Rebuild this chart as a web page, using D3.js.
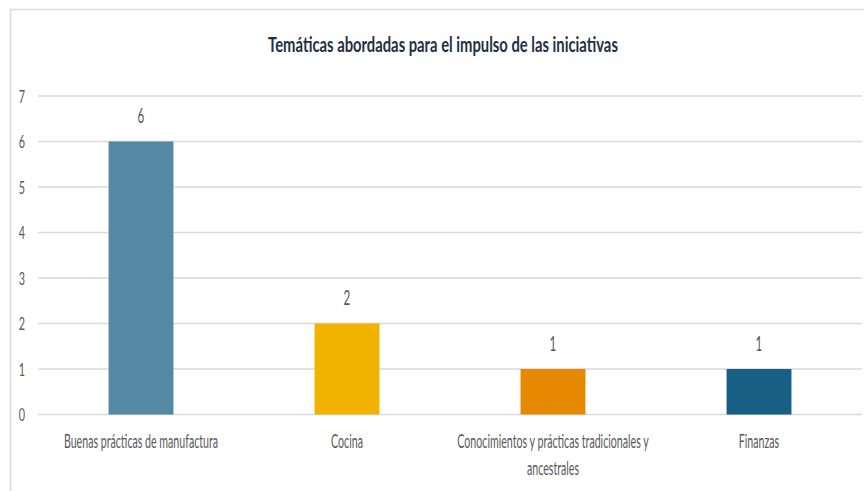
<!DOCTYPE html>
<html lang="es">
	<head>
		<meta charset="utf-8">
		<title>Temáticas abordadas</title>
		<script src="https://cdn.jsdelivr.net/npm/d3@7"></script>
		<style>
			body { margin: 0; background: #fff; }
			text { font-family: Lato, "Open Sans", sans-serif; }
		</style>
	</head>
	<body>
		<script>

			//Data
			var categories = ["Buenas prácticas de manufactura", "Cocina", "Conocimientos y prácticas tradicionales y ancestrales", "Finanzas"];
			var values = [6, 2, 1, 1];
			var colors = ["#5589a3", "#f2b200", "#e58a00", "#175f83"];
			var yTicks = [0, 1, 2, 3, 4, 5, 6, 7];
			var title = "Temáticas abordadas para el impulso de las iniciativas";

			//Size
			var w = 864;
			var h = 491;
			var plotLeft = 38, plotRight = 862, plotTop = 96, plotBottom = 414.5;

			var svg = d3.select("body")
						.append("svg")
						.attr("width", w)
						.attr("height", h);

			//Chart border (cropped at right and bottom)
			svg.append("path")
				.attr("d", "M10.5," + h + "V9.5H" + w)
				.attr("fill", "none")
				.attr("stroke", "#d9d9d9")
				.attr("stroke-width", 1.5);

			var xScale = d3.scaleBand()
						   .domain(categories)
						   .range([plotLeft, plotRight])
						   .paddingInner(0.685)
						   .paddingOuter(0.3425);

			var yScale = d3.scaleLinear()
						   .domain([0, 7])
						   .range([plotBottom, plotTop]);

			//Squashed text helper, the chart's font is narrow
			function place(g, x, y, sx) {
				return g.attr("transform", "translate(" + x + "," + y + ") scale(" + sx + ",1)");
			}

			//Grid lines
			svg.selectAll("line.grid")
				.data(yTicks)
				.enter()
				.append("line")
				.attr("class", "grid")
				.attr("x1", plotLeft)
				.attr("x2", plotRight)
				.attr("y1", function(d) { return yScale(d); })
				.attr("y2", function(d) { return yScale(d); })
				.attr("stroke", "#d9d9d9")
				.attr("stroke-width", 1.5);

			//Y tick labels
			svg.selectAll("text.ytick")
				.data(yTicks)
				.enter()
				.append("text")
				.attr("class", "ytick")
				.text(function(d) { return d; })
				.attr("font-size", "18px")
				.attr("fill", "#595959")
				.attr("text-anchor", "end")
				.each(function(d) { place(d3.select(this), 25, yScale(d) + 6.5, 0.6); });

			//Bars
			svg.selectAll("rect")
				.data(values)
				.enter()
				.append("rect")
				.attr("x", function(d, i) { return xScale(categories[i]); })
				.attr("y", function(d) { return yScale(d); })
				.attr("width", xScale.bandwidth())
				.attr("height", function(d) { return yScale(0) - yScale(d); })
				.attr("fill", function(d, i) { return colors[i]; });

			//Value labels
			svg.selectAll("text.value")
				.data(values)
				.enter()
				.append("text")
				.attr("class", "value")
				.text(function(d) { return d; })
				.attr("font-size", "22px")
				.attr("fill", "#595959")
				.attr("text-anchor", "middle")
				.each(function(d, i) {
					place(d3.select(this), xScale(categories[i]) + xScale.bandwidth() / 2, yScale(d) - 18.5, 0.53);
				});

			//Category labels, wrapped like the original
			var lines = [
				["Buenas prácticas de manufactura"],
				["Cocina"],
				["Conocimientos y prácticas tradicionales y", "ancestrales"],
				["Finanzas"]
			];
			categories.forEach(function(c, i) {
				var t = svg.append("text")
					.attr("font-size", "19px")
					.attr("fill", "#595959")
					.attr("text-anchor", "middle");
				place(t, xScale(c) + xScale.bandwidth() / 2, 448, 0.56);
				lines[i].forEach(function(l, j) {
					t.append("tspan")
						.attr("x", 0)
						.attr("dy", j == 0 ? 0 : 27)
						.text(l);
				});
			});

			//Title
			var tt = svg.append("text")
				.text(title)
				.attr("font-size", "20px")
				.attr("font-weight", "bold")
				.attr("fill", "#1f2f45")
				.attr("text-anchor", "middle");
			place(tt, 443, 52, 0.74);

		</script>
	</body>
</html>
